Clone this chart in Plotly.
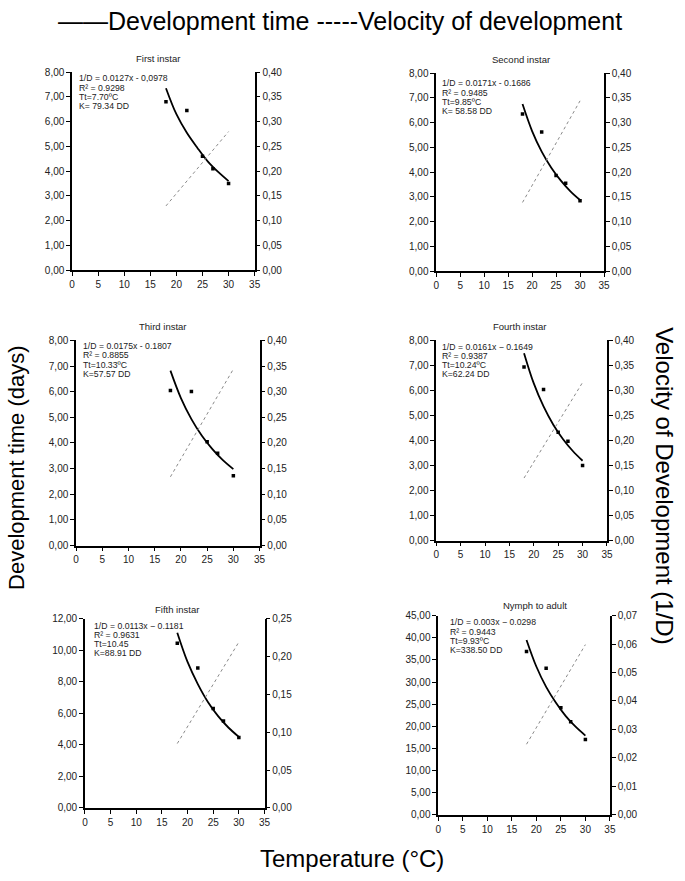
import plotly.graph_objects as go

W, H = 685, 881

# ---------------- data ----------------
temps = [18, 22, 25, 27, 30]
curve_x = [18, 20, 22, 24, 26, 28, 30]
vel_x = [18, 30]

titles = ["First instar", "Second instar", "Third instar",
          "Fourth instar", "Fifth instar", "Nymph to adult"]

obs_first = [6.80, 6.45, 4.60, 4.10, 3.50]
obs_second = [6.35, 5.62, 3.87, 3.55, 2.85]
obs_third = [6.05, 6.01, 4.05, 3.60, 2.72]
obs_fourth = [6.94, 6.04, 4.33, 3.97, 3.00]
obs_fifth = [10.44, 8.87, 6.30, 5.50, 4.46]
obs_nymph = [36.9, 33.1, 24.2, 21.0, 17.0]

curve_first = [7.35, 6.30, 5.55, 4.95, 4.40, 3.97, 3.60]
curve_second = [6.75, 5.66, 4.83, 4.18, 3.66, 3.23, 2.88]
curve_third = [6.82, 5.75, 4.93, 4.28, 3.76, 3.33, 2.98]
curve_fourth = [7.49, 6.28, 5.36, 4.63, 4.05, 3.58, 3.19]
curve_fifth = [11.10, 9.25, 7.85, 6.70, 5.80, 5.08, 4.50]
curve_nymph = [39.5, 33.5, 28.9, 25.3, 22.3, 19.9, 17.9]

vel_first = [0.130, 0.280]
vel_second = [0.139, 0.344]
vel_third = [0.134, 0.344]
vel_fourth = [0.125, 0.316]
vel_fifth = [0.085, 0.219]
vel_nymph = [0.0248, 0.0598]

eq_lines = [
    ["1/D = 0.0127x - 0,0978", "R² = 0.9298", "Tt=7.70ºC", "K= 79.34 DD"],
    ["1/D = 0.0171x - 0.1686", "R² = 0.9485", "Tt=9.85ºC", "K= 58.58 DD"],
    ["1/D = 0.0175x - 0.1807", "R² = 0.8855", "Tt=10.33ºC", "K=57.57 DD"],
    ["1/D = 0.0161x − 0.1649", "R² = 0.9387", "Tt=10.24ºC", "K=62.24 DD"],
    ["1/D = 0.0113x − 0.1181", "R² = 0.9631", "Tt=10.45", "K=88.91 DD"],
    ["1/D = 0.003x − 0.0298", "R² = 0.9443", "Tt=9.93ºC", "K=338.50 DD"],
]

left_ranges = [(0, 8, 1), (0, 8, 1), (0, 8, 1), (0, 8, 1), (0, 12, 2), (0, 45, 5)]
right_ranges = [(0, 0.40, 0.05), (0, 0.40, 0.05), (0, 0.40, 0.05),
                (0, 0.40, 0.05), (0, 0.25, 0.05), (0, 0.07, 0.01)]

obs = [obs_first, obs_second, obs_third, obs_fourth, obs_fifth, obs_nymph]
curves = [curve_first, curve_second, curve_third, curve_fourth, curve_fifth, curve_nymph]
vels = [vel_first, vel_second, vel_third, vel_fourth, vel_fifth, vel_nymph]

# ---------------- layout (page-pixel boxes of plot areas) ----------------
boxes = [(70, 255, 67, 268), (439, 609, 68, 269),
         (74, 260, 339, 547), (439, 612, 339, 542),
         (83, 265, 621, 813), (441, 615, 618, 820)]
title_pos = [(157, 53), (525, 54), (162, 325), (523, 325), (176, 612), (539, 608)]
eq_pos = [(76, 73.5), (444, 78.5), (80, 345), (444, 345.5), (91, 628.5), (452, 625)]
EQ_STEP = 9.3

FONT = "Arial, Liberation Sans, sans-serif"

def px(x):
    return x / W

def py(y):
    return 1 - y / H

fig = go.Figure()
layout = dict(
    width=W, height=H, autosize=False,
    margin=dict(l=0, r=0, t=0, b=0),
    paper_bgcolor="white", plot_bgcolor="white",
    showlegend=False, separators=", ",
    font=dict(family=FONT, color="black"),
)
annotations = []

axis_common = dict(showgrid=False, zeroline=False, showline=True, linecolor="black",
                   linewidth=1.5, ticks="outside", ticklen=4, tickwidth=1,
                   tickcolor="black", tickfont=dict(size=10, family=FONT, color="#222"))

for i in range(6):
    n = i + 1
    xa = f"x{n}"
    ya1 = f"y{2*n-1}"
    ya2 = f"y{2*n}"
    x0, x1, y0, y1 = boxes[i]
    lo, hi, dt = left_ranges[i]
    rlo, rhi, rdt = right_ranges[i]

    layout[f"xaxis{n}"] = dict(axis_common, domain=[px(x0), px(x1)], anchor=ya1,
                               range=[0, 35], tick0=0, dtick=5)
    layout[f"yaxis{2*n-1}"] = dict(axis_common, domain=[py(y1), py(y0)], anchor=xa,
                                   range=[lo, hi], tick0=0, dtick=dt, tickformat=".2f")
    layout[f"yaxis{2*n}"] = dict(axis_common, overlaying=ya1, side="right", anchor=xa,
                                 range=[rlo, rhi], tick0=0, dtick=rdt, tickformat=".2f")

    fig.add_trace(go.Scatter(x=vel_x, y=vels[i], mode="lines", xaxis=xa, yaxis=ya2,
                             line=dict(color="#8a8a8a", width=1, dash="dot")))
    fig.add_trace(go.Scatter(x=curve_x, y=curves[i], mode="lines", xaxis=xa, yaxis=ya1,
                             line=dict(color="black", width=1.8, shape="spline")))
    fig.add_trace(go.Scatter(x=temps, y=obs[i], mode="markers", xaxis=xa, yaxis=ya1,
                             marker=dict(color="black", size=3.5, symbol="square")))

    tx, ty = title_pos[i]
    annotations.append(dict(x=px(tx), y=py(ty), xref="paper", yref="paper",
                            text=titles[i], showarrow=False, xanchor="center",
                            yanchor="middle", font=dict(size=9.5, family=FONT, color="#222")))
    ex, ey = eq_pos[i]
    for k, line in enumerate(eq_lines[i]):
        annotations.append(dict(x=px(ex), y=py(ey + k * EQ_STEP), xref="paper", yref="paper",
                                text=line, showarrow=False, xanchor="left",
                                yanchor="middle", align="left", borderpad=0,
                                font=dict(size=8.7, family=FONT, color="#222")))

annotations += [
    dict(x=px(341), y=py(15.5), xref="paper", yref="paper", showarrow=False,
         text="——Development time -----Velocity of development", borderpad=0,
         font=dict(size=25, family=FONT), xanchor="center", yanchor="middle"),
    dict(x=px(13.5), y=py(468), xref="paper", yref="paper", showarrow=False,
         text="Development time (days)", textangle=-90, borderpad=0,
         font=dict(size=22, family=FONT), xanchor="center", yanchor="middle"),
    dict(x=px(670), y=py(486), xref="paper", yref="paper", showarrow=False,
         text="Velocity of Development (1/D)", textangle=90, borderpad=0,
         font=dict(size=24, family=FONT), xanchor="center", yanchor="middle"),
    dict(x=px(354), y=py(864), xref="paper", yref="paper", showarrow=False,
         text="Temperature (°C)", borderpad=0,
         font=dict(size=24, family=FONT), xanchor="center", yanchor="middle"),
]
layout["annotations"] = annotations
fig.update_layout(**layout)
fig.write_html("out.html", config={"displayModeBar": False},
               post_script="document.body.style.margin='0';"
                           "document.body.style.overflow='hidden';")
